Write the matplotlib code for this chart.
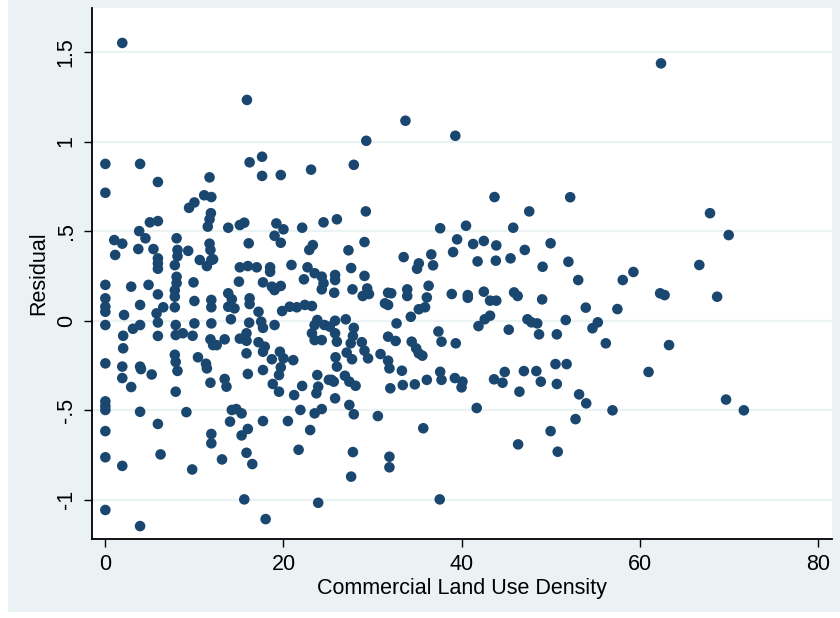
from matplotlib import pyplot as plt
from matplotlib import patches
import numpy as np

plt.rcParams.update({'font.family': ['Liberation Sans', 'DejaVu Sans'],
'font.size': 15.5})

navy = '#1A476F'
bluish_gray = '#EAF2F3'

# Commercial land use density (x) and residual (y)
density = [
    1.9, 0, 3.9, 11.7, 5.9, 0, 11.1, 11.9, 10.0, 9.4, 11.85, 11.7, 11.5, 5.0, 5.9, 3.8, 4.5, 1.0, 1.9, 8.0,
    3.7, 5.4, 8.1, 9.3, 11.7, 11.8, 1.1, 8.1, 5.9, 10.6, 5.9, 11.4, 5.9, 7.8, 11.9, 8.0, 8.0, 9.9, 0, 2.9,
    4.85, 7.8, 5.9, 0, 7.8, 10.0, 11.9, 3.9, 6.5, 7.8, 0, 0, 5.75, 2.1, 11.9, 5.9, 0, 3.9, 7.9, 10.0,
    11.9, 3.1,
    2.0, 5.9, 7.9, 8.7, 9.8, 11.8, 12.1, 2.0, 7.8, 7.9, 10.4, 0, 1.9, 3.9, 4.0, 11.3, 11.4, 8.1, 5.2, 1.9,
    2.9, 11.8, 7.9, 0, 0, 0, 3.9, 9.1, 5.9, 0, 11.9, 11.9, 0, 6.2, 1.9, 9.75, 0, 3.9,
    15.9, 16.2, 17.6, 17.6, 19.7, 23.1, 13.8, 15.1, 15.6, 19.2, 20.0, 22.1, 24.5, 19.0, 19.7, 16.1, 23.3, 22.9, 12.1, 15.1,
    16.0, 17.0, 18.5, 18.5, 20.9, 22.7, 23.5, 24.3, 15.0, 17.7, 18.7, 19.0, 19.7, 22.3, 24.5, 24.3, 13.8, 14.2, 13.8, 14.5,
    16.2, 16.2, 17.2, 19.85, 20.7, 21.5, 22.4, 23.2, 14.1, 16.15, 17.5, 19.0, 17.7, 23.8, 23.5, 24.6,
    23.2, 23.5, 24.3, 12.5, 13.4, 15.1, 15.85, 15.85, 17.2, 17.9, 17.7, 15.85, 18.7, 19.6, 20.0, 21.1, 19.7, 19.5, 17.7, 16.0,
    13.4, 13.6, 18.8, 19.5, 21.2, 22.1, 23.8, 23.9, 23.7, 25.1, 14.2, 14.7, 15.3, 14.0, 17.7, 20.5, 21.9, 23.5, 24.3, 23.0,
    16.0, 15.3, 13.1, 15.85, 16.5, 21.7, 15.6, 23.9, 18.0,
    33.7, 29.3, 27.9, 29.25, 26.0, 37.6, 29.1, 27.3, 33.5, 35.2, 35.0, 36.6, 36.8, 27.6, 25.8, 25.8, 29.1, 27.75, 25.7, 29.4,
    29.6, 28.9, 31.75, 32.1, 31.4, 31.75, 33.9, 33.9, 36.3, 36.1, 35.2, 35.9, 34.3, 32.7, 25.8, 27.0, 27.9, 37.4,
    25.2, 25.8, 26.0, 27.8, 27.55, 28.8, 31.75, 32.6, 34.4, 34.9, 35.2, 35.6, 37.75, 25.85, 26.0, 27.1, 27.7, 29.1, 29.5, 30.9,
    31.75, 31.9, 33.3, 37.6, 37.75, 25.4, 25.65, 26.9, 27.4, 28.1, 32.0, 33.4, 34.75, 36.1, 25.8, 27.4, 27.9, 30.6, 35.7, 27.8,
    31.9, 31.9, 27.6, 37.55,
    39.3, 43.7, 47.6, 40.5, 45.8, 39.5, 41.3, 42.5, 43.9, 50.0, 39.05, 47.1, 41.8, 43.85, 45.5, 49.1, 38.9, 40.7, 40.7, 42.5,
    43.2, 43.9, 45.9, 46.3, 49.05, 41.9, 42.6, 43.2, 45.3, 47.4, 47.85, 48.5,
    48.7, 50.7, 39.35, 39.25, 40.1, 40.0, 41.7, 43.65, 44.6, 44.85, 46.5, 47.0, 48.4, 48.9, 50.55, 50.7, 50.0, 46.35, 50.8,
    62.4, 52.2, 52.0, 53.1, 58.1, 59.3, 62.3, 62.8, 53.95, 57.5, 51.7, 55.3, 54.7, 56.2, 63.3, 51.8, 53.2, 54.0, 61.0, 56.95,
    52.8,
    67.9, 70.0, 66.7, 68.7, 69.7, 71.7]

residual = [
    1.55, 0.875, 0.875, 0.80, 0.774, 0.714, 0.70, 0.69, 0.66, 0.63, 0.60, 0.566, 0.525, 0.549, 0.556, 0.50, 0.46, 0.45, 0.43, 0.46,
    0.40, 0.40, 0.395, 0.39, 0.43, 0.395, 0.367, 0.36, 0.348, 0.339, 0.32, 0.305, 0.29, 0.31, 0.339, 0.245, 0.21, 0.214, 0.20, 0.19,
    0.20, 0.17, 0.147, 0.125, 0.134, 0.11, 0.116, 0.088, 0.075, 0.075, 0.078, 0.05, 0.041, 0.032, 0.075, -0.01, -0.024, -0.024, -0.024, -0.015,
    -0.015, -0.045,
    -0.084, -0.085, -0.08, -0.07, -0.084, -0.104, -0.136, -0.154, -0.19, -0.23, -0.204, -0.238, -0.256, -0.256, -0.27, -0.24, -0.266, -0.28, -0.30, -0.32,
    -0.37, -0.346, -0.396, -0.45, -0.476, -0.498, -0.508, -0.51, -0.576, -0.616, -0.632, -0.684, -0.762, -0.746, -0.81, -0.83, -1.056, -1.146,
    1.232, 0.884, 0.915, 0.808, 0.813, 0.843, 0.519, 0.534, 0.547, 0.543, 0.51, 0.519, 0.549, 0.474, 0.435, 0.432, 0.422, 0.395, 0.343, 0.298,
    0.305, 0.298, 0.298, 0.273, 0.311, 0.298, 0.265, 0.246, 0.218, 0.214, 0.19, 0.171, 0.194, 0.231, 0.209, 0.175, 0.153, 0.12, 0.078, 0.069,
    0.125, 0.093, 0.05, 0.054, 0.078, 0.075, 0.088, 0.082, 0.008, -0.011, -0.005, -0.024, -0.04, 0.004, -0.024, -0.024,
    -0.07, -0.108, -0.108, -0.136, -0.104, -0.1, -0.07, -0.112, -0.12, -0.145, -0.173, -0.182, -0.215, -0.173, -0.21, -0.22, -0.26, -0.303, -0.275, -0.297,
    -0.325, -0.368, -0.353, -0.396, -0.415, -0.364, -0.303, -0.368, -0.405, -0.33, -0.498, -0.493, -0.517, -0.563, -0.56, -0.56, -0.498, -0.517, -0.493, -0.61,
    -0.604, -0.64, -0.774, -0.737, -0.80, -0.72, -0.997, -1.016, -1.107,
    1.116, 1.004, 0.87, 0.61, 0.566, 0.516, 0.439, 0.393, 0.355, 0.32, 0.29, 0.37, 0.309, 0.294, 0.255, 0.227, 0.25, 0.175, 0.156, 0.18,
    0.149, 0.138, 0.156, 0.153, 0.097, 0.088, 0.175, 0.138, 0.195, 0.13, 0.064, 0.075, 0.022, -0.015, 0.0, 0.008, -0.04, -0.06,
    -0.033, -0.07, -0.117, -0.085, -0.126, -0.12, -0.089, -0.113, -0.117, -0.154, -0.182, -0.195, -0.117, -0.204, -0.256, -0.178, -0.215, -0.167, -0.21, -0.186,
    -0.223, -0.266, -0.279, -0.285, -0.33, -0.33, -0.34, -0.307, -0.34, -0.363, -0.377, -0.359, -0.355, -0.33, -0.433, -0.47, -0.522, -0.532, -0.60, -0.733,
    -0.759, -0.818, -0.87, -0.997,
    1.032, 0.69, 0.61, 0.53, 0.519, 0.454, 0.428, 0.445, 0.42, 0.432, 0.383, 0.395, 0.331, 0.335, 0.348, 0.301, 0.149, 0.143, 0.128, 0.162,
    0.112, 0.112, 0.158, 0.138, 0.119, -0.03, 0.008, 0.028, -0.05, 0.008, -0.009, -0.015,
    -0.076, -0.076, -0.126, -0.32, -0.34, -0.372, -0.487, -0.327, -0.346, -0.286, -0.396, -0.281, -0.281, -0.34, -0.242, -0.353, -0.616, -0.69, -0.731,
    1.436, 0.689, 0.329, 0.227, 0.227, 0.272, 0.153, 0.143, 0.073, 0.065, 0.004, -0.009, -0.042, -0.126, -0.136, -0.242, -0.411, -0.461, -0.286, -0.50,
    -0.549,
    0.60, 0.478, 0.311, 0.134, -0.44, -0.50]

y_ticks = [-1, -0.5, 0, 0.5, 1, 1.5]
y_tick_labels = ['-1', '-.5', '0', '.5', '1', '1.5']
x_ticks = [0, 20, 40, 60, 80]

# ----------------------------------------------------------------------------------------------------
def plot_residuals():

    fig = plt.figure(figsize = (8.4, 6.18), dpi = 100, facecolor = 'white')
    # Stata-like graph region
    fig.patches.append(patches.Rectangle((8/840, 6/618), 832/840, 612/618, transform = fig.transFigure,
                                         facecolor = bluish_gray, edgecolor = 'none', zorder = -10))

    ax = fig.add_axes([92/840, 79/618, 740/840, 531/618])
    ax.set_facecolor('white')

    for yt in y_ticks:
        ax.axhline(yt, color = bluish_gray, lw = 1.6, zorder = 0)

    ax.scatter(density, residual, s = 58, color = navy, edgecolors = 'none', zorder = 3)

    ax.set_xlim(-1.5, 81.6)
    ax.set_ylim(-1.218, 1.745)
    ax.set_xticks(x_ticks)
    ax.set_yticks(y_ticks)
    ax.set_yticklabels(y_tick_labels, rotation = 90, va = 'center')
    ax.tick_params(direction = 'out', length = 6, width = 1, color = 'black', labelsize = 15.5, pad = 5)

    for side in ['top', 'right']:
        ax.spines[side].set_visible(False)
    for side in ['left', 'bottom']:
        ax.spines[side].set_color('black')
        ax.spines[side].set_linewidth(1.3)

    ax.set_xlabel('Commercial Land Use Density', fontsize = 15.5, labelpad = 2)
    ax.set_ylabel('Residual', fontsize = 15.5, labelpad = 5)

    fig.savefig('out.png', dpi = 100, facecolor = fig.get_facecolor())

# ----------------------------------------------------------------------------------------------------
if __name__ == '__main__':

    plot_residuals()
